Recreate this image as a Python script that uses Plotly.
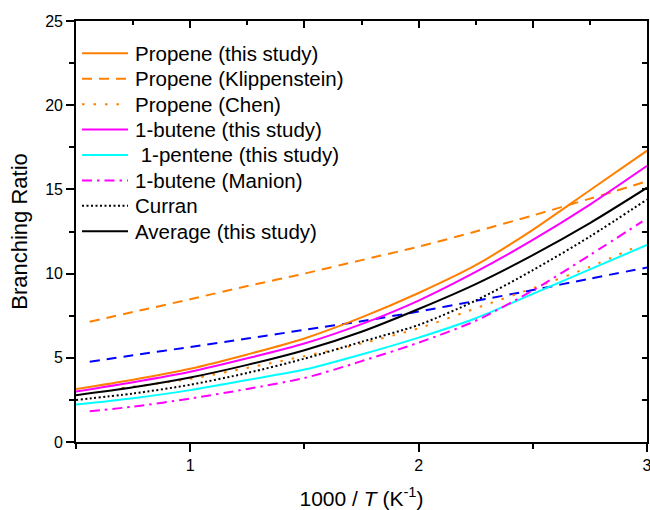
import plotly.graph_objects as go

# 1000/T grid (K^-1) shared by most of the curves
x_main = [0.5, 0.75, 1.0, 1.25, 1.5, 1.75, 2.0, 2.25, 2.5, 2.75, 3.0]

propene_this = [3.15, 3.7, 4.35, 5.2, 6.15, 7.4, 8.85, 10.5, 12.6, 14.95, 17.3]
butene_this = [3.0, 3.55, 4.17, 4.97, 5.85, 7.0, 8.4, 10.1, 12.0, 14.1, 16.4]
pentene_this = [2.22, 2.6, 3.08, 3.68, 4.3, 5.2, 6.2, 7.35, 8.8, 10.25, 11.7]
average_this = [2.78, 3.25, 3.83, 4.58, 5.45, 6.55, 7.9, 9.38, 11.1, 13.0, 15.1]
curran = [2.5, 2.88, 3.4, 4.1, 4.95, 5.95, 6.95, 8.4, 10.2, 12.2, 14.4]

x_lit = [0.56, 0.75, 1.0, 1.25, 1.5, 1.75, 2.0, 2.25, 2.5, 2.75, 3.0]
propene_klippenstein = [7.14, 7.72, 8.48, 9.26, 10.0, 10.8, 11.6, 12.5, 13.45, 14.45, 15.48]
blue_dashed = [4.76, 5.15, 5.64, 6.14, 6.66, 7.17, 7.75, 8.38, 9.02, 9.7, 10.36]

x_chen = [0.7, 1.0, 1.25, 1.5, 1.75, 2.0, 2.25, 2.5, 2.75, 2.97]
propene_chen = [3.2, 3.75, 4.4, 5.1, 5.85, 6.75, 7.94, 9.13, 10.4, 11.7]

x_manion = [0.56, 0.75, 1.0, 1.25, 1.5, 1.75, 2.0, 2.25, 2.5, 2.75, 2.98]
butene_manion = [1.83, 2.1, 2.58, 3.15, 3.8, 4.8, 5.9, 7.2, 9.0, 11.1, 13.1]

ORANGE = "#FF8000"
MAGENTA = "#FF00FF"
CYAN = "#00FFFF"
BLUE = "#0000FF"
BLACK = "#000000"

FONT = "Arial, 'Liberation Sans', sans-serif"

# (legend label, x, y, colour, dash, listed in legend)
series = [
    ("Propene (this study)", x_main, propene_this, ORANGE, "solid", True),
    ("Propene (Klippenstein)", x_lit, propene_klippenstein, ORANGE, "10px,7px", True),
    ("Propene (Chen)", x_chen, propene_chen, ORANGE, "2.5px,9px", True),
    ("1-butene (this study)", x_main, butene_this, MAGENTA, "solid", True),
    (" 1-pentene (this study)", x_main, pentene_this, CYAN, "solid", True),
    ("1-butene (Manion)", x_manion, butene_manion, MAGENTA, "10px,5px,2.5px,5px", True),
    ("Curran", x_main, curran, BLACK, "2px,2.5px", True),
    ("Average (this study)", x_main, average_this, BLACK, "solid", True),
    ("Blue dashed", x_lit, blue_dashed, BLUE, "10px,7px", False),
]

fig = go.Figure()

# the blue dashed curve sits underneath the others
for i in [8, 0, 1, 2, 3, 4, 5, 6, 7]:
    name, xs, ys, color, dash, _ = series[i]
    fig.add_trace(go.Scatter(
        x=xs, y=ys, mode="lines", name=name, showlegend=False,
        line=dict(color=color, width=2, dash=dash, shape="spline", smoothing=0.8),
    ))

# mirrored frame axes (top/right) carrying inward ticks
fig.add_trace(go.Scatter(x=[], y=[], xaxis="x2", yaxis="y2", showlegend=False,
                         hoverinfo="skip"))

# legend block: sample line + label per listed series (paper coordinates)
PLOT_L, PLOT_R, PLOT_T, PLOT_B = 76, 647, 21, 441.7
def px_to_paper_x(px):
    return (px - PLOT_L) / (PLOT_R - PLOT_L)
def px_to_paper_y(py):
    return 1 - (py - PLOT_T) / (PLOT_B - PLOT_T)

row0, row_step = 53.3, 25.4
shapes, annotations = [], []
listed = [s for s in series if s[5]]
for k, (name, _, _, color, dash, _) in enumerate(listed):
    yc = px_to_paper_y(row0 + row_step * k)
    shapes.append(dict(
        type="line", xref="paper", yref="paper",
        x0=px_to_paper_x(82), x1=px_to_paper_x(128), y0=yc, y1=yc,
        line=dict(color=color, width=2, dash=dash),
    ))
    annotations.append(dict(
        xref="paper", yref="paper", x=px_to_paper_x(133), y=yc,
        xanchor="left", yanchor="middle", showarrow=False,
        text=name.replace(" ", "&nbsp;", 1) if name.startswith(" ") else name,
        font=dict(family=FONT, size=20.5, color="black"),
    ))

axis_common = dict(showgrid=False, zeroline=False, showline=True,
                   linecolor="black", linewidth=1.6, tickcolor="black",
                   tickwidth=1.6, automargin=False)

fig.update_layout(
    width=650, height=510,
    margin=dict(l=76, r=3, t=21, b=68),
    paper_bgcolor="white", plot_bgcolor="white",
    font=dict(family=FONT, size=16, color="black"),
    showlegend=False,
    shapes=shapes,
    annotations=annotations,
    xaxis=dict(
        range=[0.5, 3.0], tick0=0, dtick=1, ticks="outside", ticklen=8,
        minor=dict(dtick=0.5, tick0=0, ticks="outside", ticklen=5,
                   tickcolor="black", tickwidth=1.6),
        tickfont=dict(size=16), ticklabeloverflow="allow",
        title=dict(text="1000 / <i>T</i> (K<sup>-1</sup>)",
                   font=dict(size=21), standoff=24),
        **axis_common,
    ),
    yaxis=dict(
        range=[0, 25], tick0=0, dtick=5, ticks="outside", ticklen=8,
        minor=dict(dtick=2.5, tick0=0, ticks="outside", ticklen=5,
                   tickcolor="black", tickwidth=1.6),
        tickfont=dict(size=16), ticklabeloverflow="allow",
        title=dict(text="Branching Ratio", font=dict(size=22), standoff=12),
        **axis_common,
    ),
    xaxis2=dict(
        overlaying="x", side="top", anchor="y", range=[0.5, 3.0],
        tick0=0, dtick=0.5, ticks="inside", ticklen=7, showticklabels=False,
        minor=dict(dtick=0.25, tick0=0, ticks="inside", ticklen=4,
                   tickcolor="black", tickwidth=1.6),
        **axis_common,
    ),
    yaxis2=dict(
        overlaying="y", side="right", anchor="x", range=[0, 25],
        tick0=0, dtick=2.5, ticks="inside", ticklen=5, showticklabels=False,
        **axis_common,
    ),
)

fig.write_html("out.html")
